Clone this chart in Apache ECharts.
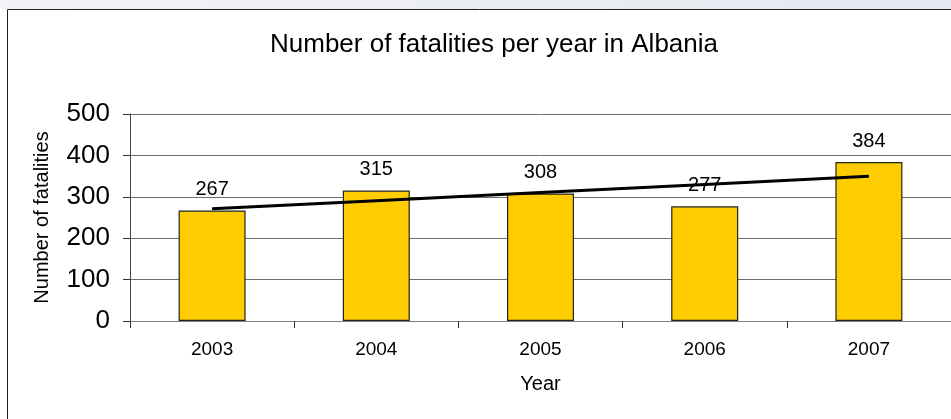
<!DOCTYPE html>
<html>
<head>
<meta charset="utf-8">
<script src="https://cdn.jsdelivr.net/npm/echarts@6/dist/echarts.min.js"></script>
<style>
html,body{margin:0;padding:0;background:#fff;}
#chart{width:951px;height:419px;}
</style>
</head>
<body>
<div id="chart"></div>
<script>
var years = ['2003', '2004', '2005', '2006', '2007'];
var fatalities = [267, 315, 308, 277, 384];
var trend = [271, 290.6, 310.2, 329.8, 349.4];
var yTicks = [0, 100, 200, 300, 400, 500];

var chart = echarts.init(document.getElementById('chart'));
var font = '"Liberation Sans", Arial, sans-serif';
chart.setOption({
  animation: false,
  backgroundColor: '#ffffff',
  graphic: [
    {type: 'rect', shape: {x: 0, y: 0, width: 951, height: 9},
     style: {fill: new echarts.graphic.LinearGradient(0, 0, 1, 0, [{offset: 0, color: '#f2f3f6'}, {offset: 1, color: '#e4e8ef'}])}, z: -1},
    {type: 'rect', shape: {x: 7.5, y: 9.5, width: 960, height: 420},
     style: {fill: 'none', stroke: '#222', lineWidth: 1}, z: 10}
  ],
  title: {
    text: 'Number of fatalities per year in Albania',
    left: 489, top: 27, textAlign: 'center',
    textStyle: {fontFamily: font, fontSize: 26, fontWeight: 'normal', color: '#000'}
  },
  grid: {left: 130, top: 114, width: 822, height: 207},
  xAxis: {
    type: 'category', data: years, boundaryGap: true,
    name: 'Year', nameLocation: 'middle', nameGap: 53,
    nameTextStyle: {fontFamily: font, fontSize: 20, color: '#000'},
    axisLine: {lineStyle: {color: '#808080', width: 1}},
    axisTick: {show: true, length: 7, lineStyle: {color: '#333'}},
    axisLabel: {fontFamily: font, fontSize: 19, color: '#000', margin: 19}
  },
  yAxis: {
    type: 'value', min: 0, max: 500, interval: 100,
    name: 'Number of fatalities', nameLocation: 'middle', nameGap: 78, nameRotate: 90,
    nameTextStyle: {fontFamily: font, fontSize: 20, color: '#000'},
    axisLine: {show: true, lineStyle: {color: '#444', width: 1}},
    axisTick: {show: true, length: 7, lineStyle: {color: '#333'}},
    axisLabel: {fontFamily: font, fontSize: 26, color: '#000', margin: 20,
      formatter: function (v) { return yTicks.indexOf(v) >= 0 ? String(v) : ''; }},
    splitLine: {show: true, lineStyle: {color: '#6e6e6e', width: 1}}
  },
  series: [
    {
      type: 'bar', data: fatalities, barWidth: 67,
      itemStyle: {color: '#FFCC00', borderColor: '#222', borderWidth: 1.2},
      label: {show: true, position: 'top', distance: 11, fontFamily: font, fontSize: 20, color: '#000'},
      z: 2
    },
    {
      type: 'line', data: trend, symbol: 'none', silent: true,
      lineStyle: {color: '#000', width: 3},
      z: 3
    }
  ]
});
</script>
</body>
</html>
